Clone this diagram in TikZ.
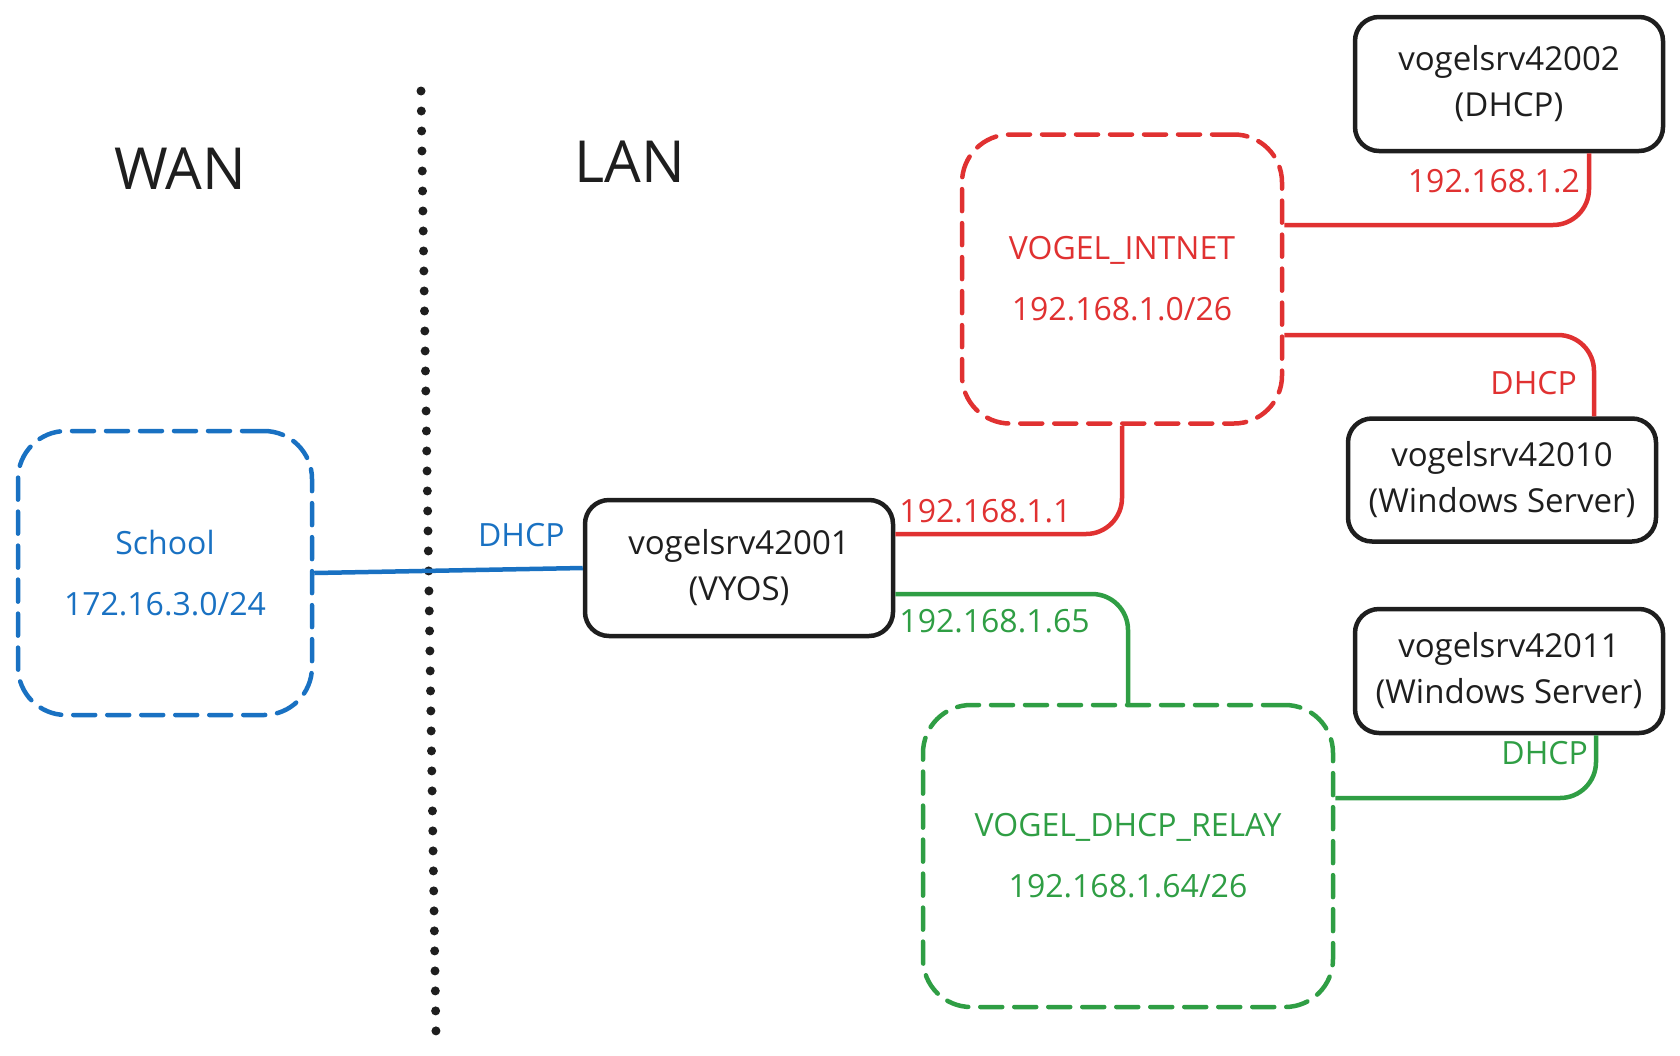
\documentclass[tikz,border=0pt]{standalone}
\usepackage{fontspec}
\setmainfont{Open Sans}
\usepackage{tikz}
\usetikzlibrary{positioning}
\definecolor{Ink}{HTML}{1E1E1E}
\definecolor{NetRed}{HTML}{E03131}
\definecolor{NetGreen}{HTML}{2F9E44}
\definecolor{NetBlue}{HTML}{1971C2}
\tikzset{
  hostbox/.style={draw=Ink,line width=4.5pt,rounded corners=24pt,align=center,minimum width=308pt,
    text=Ink,font=\fontsize{33}{46}\selectfont},
  netbox/.style={line width=4.5pt,dash pattern=on 22pt off 12pt,line cap=round,rounded corners=48pt,
    align=center,font=\fontsize{32}{61}\selectfont},
  wire/.style={line width=4.5pt,rounded corners=36pt},
  lbl/.style={inner sep=2pt,font=\fontsize{32}{38}\selectfont},
  zone/.style={text=Ink,font=\fontsize{58}{62}\selectfont},
  divider/.style={draw=Ink,line width=9pt,line cap=round,dash pattern=on 0pt off 20pt},
}

\begin{document}
\begin{tikzpicture}[x=1pt,y=-1pt]
        \useasboundingbox (0,0) rectangle (1680,1055);
        \node[zone] (wan) at (180,169) {WAN};
        \node[zone] (lan) at (630,162) {LAN};
        \coordinate (divtop) at (421,91);
        \coordinate (divbot) at (436,1034);
        \draw[divider] (divtop) -- (divbot);
        \node[netbox,draw=NetBlue,text=NetBlue,minimum width=294pt,minimum height=284pt] (school) at (165,573) {School\\172.16.3.0/24};
        \node[netbox,draw=NetRed,text=NetRed,minimum width=320pt,minimum height=289pt] (intnet) at (1122,279) {VOGEL\_INTNET\\192.168.1.0/26};
        \node[netbox,draw=NetGreen,text=NetGreen,minimum width=410pt,minimum height=302pt] (relay) at (1128,856) {VOGEL\_DHCP\_RELAY\\192.168.1.64/26};
        \node[hostbox,minimum height=136pt] (vyos) at (739,568) {vogelsrv42001\\(VYOS)};
        \node[hostbox,minimum height=134pt] (srvdhcp) at (1509,84) {vogelsrv42002\\(DHCP)};
        \node[hostbox,minimum height=123pt] (srvwin1) at (1502,480) {vogelsrv42010\\(Windows Server)};
        \node[hostbox,minimum height=124pt] (srvwin2) at (1509,671) {vogelsrv42011\\(Windows Server)};
        \draw[wire,NetBlue] (school.east) -- (vyos.west);
        \draw[wire,NetRed] ([yshift=34pt]vyos.east) -| (intnet.south);
        \draw[wire,NetRed] ([yshift=54pt]intnet.east) -| ([xshift=80pt]srvdhcp.south);
        \draw[wire,NetRed] ([yshift=-56pt]intnet.east) -| ([xshift=92pt]srvwin1.north);
        \draw[wire,NetGreen] ([yshift=-26pt]vyos.east) -| (relay.north);
        \draw[wire,NetGreen] ([yshift=58pt]relay.east) -| ([xshift=87pt]srvwin2.south);
        \node[lbl,text=NetBlue,anchor=south east] (wanip) at ([xshift=-16pt,yshift=19pt]vyos.west) {DHCP};
        \node[lbl,text=NetRed,anchor=south west] (gwint) at ([xshift=2pt,yshift=43pt]vyos.east) {192.168.1.1};
        \node[lbl,text=NetGreen,anchor=north west] (gwrelay) at ([xshift=2pt,yshift=-39pt]vyos.east) {192.168.1.65};
        \node[lbl,text=NetRed,anchor=north east] (dhcpip) at ([xshift=73pt,yshift=-14pt]srvdhcp.south) {192.168.1.2};
        \node[lbl,text=NetRed,anchor=south east] (win1dhcp) at ([xshift=77pt,yshift=19pt]srvwin1.north) {DHCP};
        \node[lbl,text=NetGreen,anchor=north east] (win2dhcp) at ([xshift=81pt,yshift=-4pt]srvwin2.south) {DHCP};
      \end{tikzpicture}
\end{document}
